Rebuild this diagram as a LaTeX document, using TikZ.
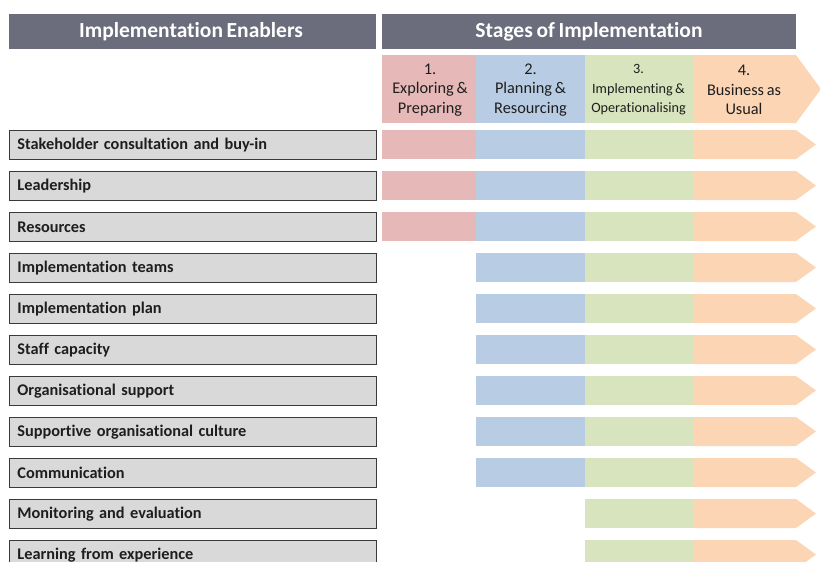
\documentclass[tikz,border=0pt]{standalone}
\usepackage{fontspec}
\setmainfont{Carlito}[WordSpace=0.75,Ligatures=NoCommon]
\definecolor{hdr}{HTML}{6B6C7C}
\definecolor{cpink}{HTML}{E6B8B7}
\definecolor{cblue}{HTML}{B8CCE4}
\definecolor{cgreen}{HTML}{D7E4BD}
\definecolor{corange}{HTML}{FCD5B4}
\definecolor{boxfill}{HTML}{D9D9D9}
\definecolor{boxline}{HTML}{3A3A3A}
\definecolor{txt}{HTML}{1E1E1E}
\begin{document}
\begin{tikzpicture}[x=1pt,y=-1pt,
  hdrbox/.style={fill=hdr,draw=none,text=white,font=\fontsize{21.5}{24}\selectfont\bfseries,inner sep=0pt},
  enabler/.style={draw=boxline,line width=0.9pt,fill=boxfill,anchor=north west,minimum width=367pt,minimum height=29pt,inner sep=0pt,text width=351pt,align=left,font=\fontsize{16.3}{18}\selectfont\bfseries,text=txt},
  seg/.style={draw=none,anchor=north west,minimum height=29pt,inner sep=0pt},
  stagetxt/.style={font=\fontsize{16.3}{19.5}\selectfont,align=center,text=txt,inner sep=0pt},
]
\useasboundingbox (0,0) rectangle (820,562);
\begin{scope}
\clip (0,0) rectangle (820,562);
% headers
\fill[hdr] (9,14) rectangle (376,49);
\node[hdrbox] (hleft) at (191,31.5) {Implementation Enablers};
\fill[hdr] (382,14) rectangle (796,49);
\node[hdrbox] (hright) at (589,31.5) {Stages of Implementation};
% stage header arrow
\fill[cpink] (382,55) rectangle (476,123);
\fill[cblue] (476,55) rectangle (585,123);
\fill[cgreen] (585,55) rectangle (693,123);
\fill[corange] (693,55) -- (796,55) -- (821,89) -- (796,123) -- (693,123) -- cycle;
\node[stagetxt] (s1) at (430,90) {1.\\Exploring \&\\Preparing};
\node[stagetxt] (s2) at (530.5,90) {2.\\Planning \&\\Resourcing};
\node[stagetxt,font=\fontsize{14.2}{19.5}\selectfont] (s3) at (638.5,90) {3.\\Implementing \&\\Operationalising};
\node[stagetxt] (s4) at (744,90) {4.\\Business as\\Usual};
% rows
\foreach \i/\lab/\st in {
  0/Stakeholder consultation and buy-in/1,
  1/Leadership/1,
  2/Resources/1,
  3/Implementation teams/2,
  4/Implementation plan/2,
  5/Staff capacity/2,
  6/Organisational support/2,
  7/Supportive organisational culture/2,
  8/Communication/2,
  9/Monitoring and evaluation/3,
  10/Learning~from experience/3}{
  \pgfmathsetmacro{\yt}{130+41*\i}
  \pgfmathsetmacro{\ym}{\yt+14.5}
  \pgfmathsetmacro{\yb}{\yt+29}
  \node[enabler] (e\i) at (9,\yt) {\lab};
  \ifnum\st<2 \node[seg,fill=cpink,minimum width=94pt] (p\i) at (382,\yt) {};\fi
  \ifnum\st<3 \node[seg,fill=cblue,minimum width=109pt] (b\i) at (476,\yt) {};\fi
  \node[seg,fill=cgreen,minimum width=108pt] (g\i) at (585,\yt) {};
  \fill[corange] (693,\yt) -- (796,\yt) -- (816,\ym) -- (796,\yb) -- (693,\yb) -- cycle;
}
\end{scope}
\end{tikzpicture}
\end{document}
